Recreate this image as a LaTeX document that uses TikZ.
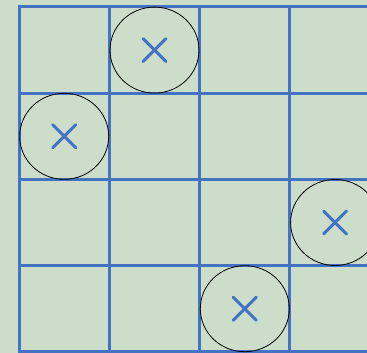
\documentclass[tikz,border=0pt]{standalone}
\usepackage{tikz}
\usetikzlibrary{shapes.geometric}
\definecolor{BoardGreen}{HTML}{CCDDCA}
\definecolor{BoardBlue}{HTML}{4573C4}

\begin{document}
\begin{tikzpicture}[
      x=1pt,y=-1pt,
      gridline/.style={draw=BoardBlue,line width=3pt},
      queen/.style={ellipse,draw=black,line width=0.8pt,
        minimum width=89pt,minimum height=86pt,inner sep=0pt},
      cross/.style={draw=BoardBlue,line width=3pt,line cap=round}
    ]
      \fill[BoardGreen] (0,0) rectangle (367,353);
      \useasboundingbox (0,0) rectangle (367,353);

      % board lines
      \foreach \x in {19,109.3,199.6,289.9}
        \draw[gridline] (\x,5.5) -- (\x,353);
      \foreach \y in {7,93.2,179.4,265.6,351.8}
        \draw[gridline] (17.5,\y) -- (367,\y);

      % queens
      \node[queen] (qa) at (154.5,50.1) {};
      \node[queen] (qb) at (64.2,136.3) {};
      \node[queen] (qc) at (335.1,222.5) {};
      \node[queen] (qd) at (244.8,308.7) {};

      \foreach \q in {qa,qb,qc,qd} {
        \draw[cross] (\q.center) ++(-11.5,-11.5) -- ++(23,23);
        \draw[cross] (\q.center) ++(-11.5,11.5) -- ++(23,-23);
      }
    \end{tikzpicture}
\end{document}
